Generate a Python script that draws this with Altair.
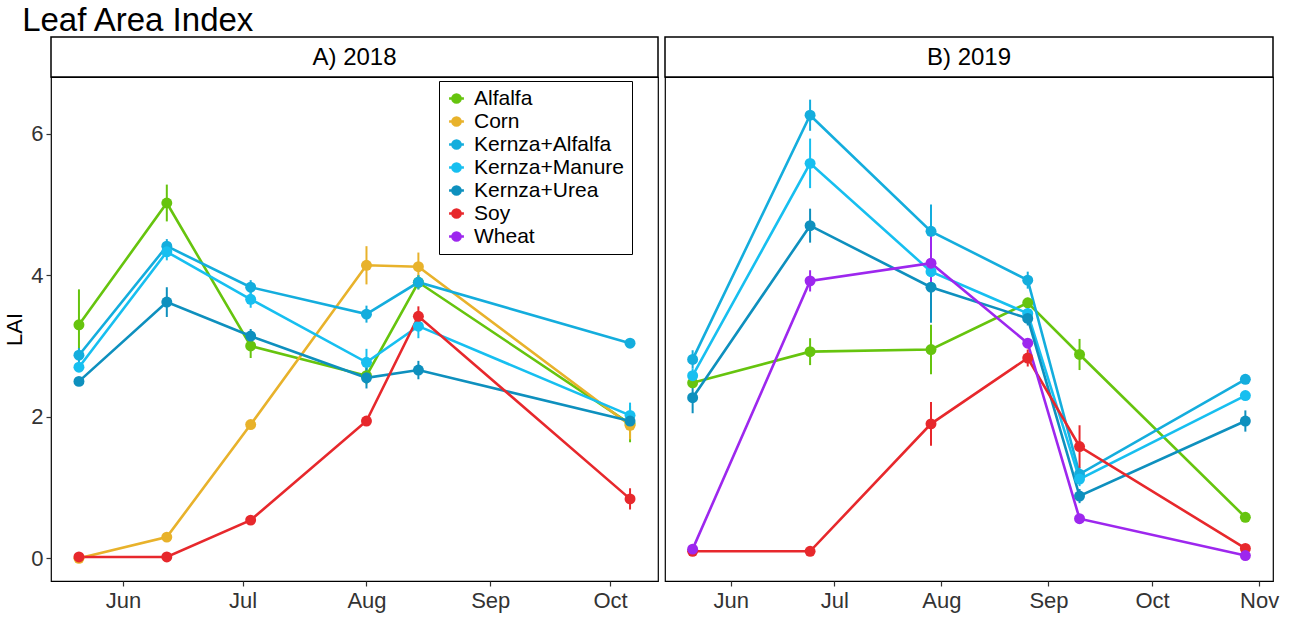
import altair as alt
import pandas as pd

FONT = "Liberation Sans"

treatments = ["Alfalfa", "Corn", "Kernza+Alfalfa", "Kernza+Manure", "Kernza+Urea", "Soy", "Wheat"]
colors = ["#66C40E", "#E8B22B", "#14ADDD", "#17BFF0", "#0E90BE", "#E7282C", "#9D27EE"]

dates_2018 = ["2018-05-21", "2018-06-12", "2018-07-03", "2018-08-01", "2018-08-14", "2018-10-06"]
dates_2019 = ["2019-05-21", "2019-06-24", "2019-07-29", "2019-08-26", "2019-09-10", "2019-10-28"]

# 2018 means and standard errors
alfalfa_2018 = [3.30, 5.02, 3.00, 2.58, 3.90, 1.90]
corn_2018 = [0.00, 0.30, 1.89, 4.14, 4.12, 1.88]
kalf_2018 = [2.87, 4.41, 3.83, 3.45, 3.90, 3.04]
kman_2018 = [2.70, 4.33, 3.66, 2.77, 3.28, 2.02]
kurea_2018 = [2.50, 3.62, 3.14, 2.55, 2.66, 1.94]
soy_2018 = [0.02, 0.02, 0.54, 1.94, 3.42, 0.84]

alfalfa_2018_se = [0.50, 0.26, 0.17, 0.12, 0.10, 0.26]
corn_2018_se = [0.01, 0.03, 0.05, 0.27, 0.20, 0.20]
kalf_2018_se = [0.10, 0.10, 0.10, 0.12, 0.10, 0.05]
kman_2018_se = [0.05, 0.12, 0.12, 0.19, 0.17, 0.18]
kurea_2018_se = [0.05, 0.21, 0.10, 0.15, 0.13, 0.10]
soy_2018_se = [0.01, 0.01, 0.05, 0.07, 0.14, 0.15]

# 2019 means and standard errors
alfalfa_2019 = [2.48, 2.92, 2.95, 3.61, 2.88, 0.58]
kalf_2019 = [2.81, 6.26, 4.62, 3.93, 1.19, 2.53]
kman_2019 = [2.58, 5.58, 4.05, 3.46, 1.12, 2.30]
kurea_2019 = [2.27, 4.70, 3.83, 3.39, 0.88, 1.94]
soy_2019 = [0.10, 0.10, 1.90, 2.83, 1.58, 0.14]
wheat_2019 = [0.13, 3.92, 4.17, 3.04, 0.56, 0.04]

alfalfa_2019_se = [0.05, 0.19, 0.35, 0.07, 0.22, 0.04]
kalf_2019_se = [0.13, 0.22, 0.38, 0.12, 0.10, 0.04]
kman_2019_se = [0.10, 0.35, 0.30, 0.10, 0.10, 0.04]
kurea_2019_se = [0.22, 0.24, 0.50, 0.10, 0.10, 0.15]
soy_2019_se = [0.02, 0.02, 0.31, 0.12, 0.30, 0.03]
wheat_2019_se = [0.05, 0.15, 0.40, 0.05, 0.05, 0.03]

series_2018 = {
    "Alfalfa": (alfalfa_2018, alfalfa_2018_se),
    "Corn": (corn_2018, corn_2018_se),
    "Kernza+Alfalfa": (kalf_2018, kalf_2018_se),
    "Kernza+Manure": (kman_2018, kman_2018_se),
    "Kernza+Urea": (kurea_2018, kurea_2018_se),
    "Soy": (soy_2018, soy_2018_se),
}
series_2019 = {
    "Alfalfa": (alfalfa_2019, alfalfa_2019_se),
    "Kernza+Alfalfa": (kalf_2019, kalf_2019_se),
    "Kernza+Manure": (kman_2019, kman_2019_se),
    "Kernza+Urea": (kurea_2019, kurea_2019_se),
    "Soy": (soy_2019, soy_2019_se),
    "Wheat": (wheat_2019, wheat_2019_se),
}


def to_frame(dates, series):
    rows = []
    for name, (means, ses) in series.items():
        for d, m, s in zip(dates, means, ses):
            rows.append({"date": d, "treatment": name, "lai": m, "se": s})
    return pd.DataFrame(rows)


df_2018 = to_frame(dates_2018, series_2018)
df_2019 = to_frame(dates_2019, series_2019)

W_A, W_B, H = 607, 608, 504
STRIP = 40

# legend key: a dot with a short line through it
KEY = "M-1,0H1M-0.55,0A0.55,0.55,0,1,0,0.55,0A0.55,0.55,0,1,0,-0.55,0Z"

legend = alt.Legend(
    title=None,
    orient="none",
    legendX=388,
    legendY=4,
    labelFontSize=21,
    labelFont=FONT,
    labelColor="black",
    symbolType=KEY,
    symbolSize=220,
    symbolStrokeWidth=2.5,
    rowPadding=1,
    labelOffset=7,
    padding=7,
    strokeColor="black",
    fillColor="white",
    labelLimit=300,
)

color = alt.Color(
    "treatment:N",
    scale=alt.Scale(domain=treatments, range=colors),
    legend=legend,
)


def dt(y, m, d):
    return alt.DateTime(year=y, month=m, date=d, utc=True)


def panel(df, label, domain, ticks, width, show_y):
    x = alt.X(
        "date:T",
        scale=alt.Scale(type="utc", domain=domain),
        axis=alt.Axis(values=ticks, labelExpr="utcFormat(datum.value, '%b')",
                      title=None, labelFontSize=22, labelPadding=4),
    )
    yscale = alt.Scale(domain=[-0.32, 6.8], nice=False, zero=False)
    if show_y:
        yaxis = alt.Axis(values=[0, 2, 4, 6], title="LAI", titleFontSize=22,
                         titleFontWeight="normal", titleColor="black",
                         labelFontSize=22, titlePadding=4, labelPadding=3)
    else:
        yaxis = None

    base = alt.Chart(df).encode(x=x, color=color)
    lines = base.mark_line(strokeWidth=2.6).encode(
        y=alt.Y("lai:Q", scale=yscale, axis=yaxis)
    )
    bars = base.transform_calculate(
        lo="datum.lai - datum.se", hi="datum.lai + datum.se"
    ).mark_rule(strokeWidth=2).encode(
        y=alt.Y("lo:Q", scale=yscale, axis=yaxis), y2="hi:Q"
    )
    points = base.mark_circle(size=120, opacity=1).encode(
        y=alt.Y("lai:Q", scale=yscale, axis=yaxis)
    )

    strip_df = pd.DataFrame({"label": [label]})
    strip_box = alt.Chart(strip_df).mark_rect(
        fill="white", stroke="black", strokeWidth=1.5, clip=False
    ).encode(
        x=alt.value(0), x2=alt.value(width), y=alt.value(-STRIP), y2=alt.value(0)
    )
    strip_text = alt.Chart(strip_df).mark_text(
        fontSize=24, font=FONT, color="black", baseline="middle", clip=False
    ).encode(
        x=alt.value(width / 2), y=alt.value(-STRIP / 2 + 1), text="label:N"
    )
    return alt.layer(strip_box, strip_text, lines, bars, points).properties(
        width=width, height=H
    )


panel_a = panel(
    df_2018, "A) 2018",
    [dt(2018, 5, 14), dt(2018, 10, 13)],
    [dt(2018, m, 1) for m in range(6, 11)],
    W_A, True,
)
panel_b = panel(
    df_2019, "B) 2019",
    [dt(2019, 5, 13), dt(2019, 11, 5)],
    [dt(2019, m, 1) for m in range(6, 12)],
    W_B, False,
)

chart = alt.hconcat(panel_a, panel_b, spacing=3).properties(
    title=alt.TitleParams("Leaf Area Index", anchor="start", fontSize=33,
                          font=FONT, fontWeight="normal", color="black",
                          offset=-2, dx=19),
    padding={"left": 3, "top": 4, "right": 8, "bottom": 3},
    background="white",
).configure_view(
    stroke="black", strokeWidth=1.2
).configure_axis(
    grid=False, domain=False, labelFont=FONT, titleFont=FONT,
    labelColor="#333333", tickColor="#333333", tickSize=5, tickWidth=1.2,
)

chart.save("out.html", embed_options={"renderer": "svg", "actions": False})
